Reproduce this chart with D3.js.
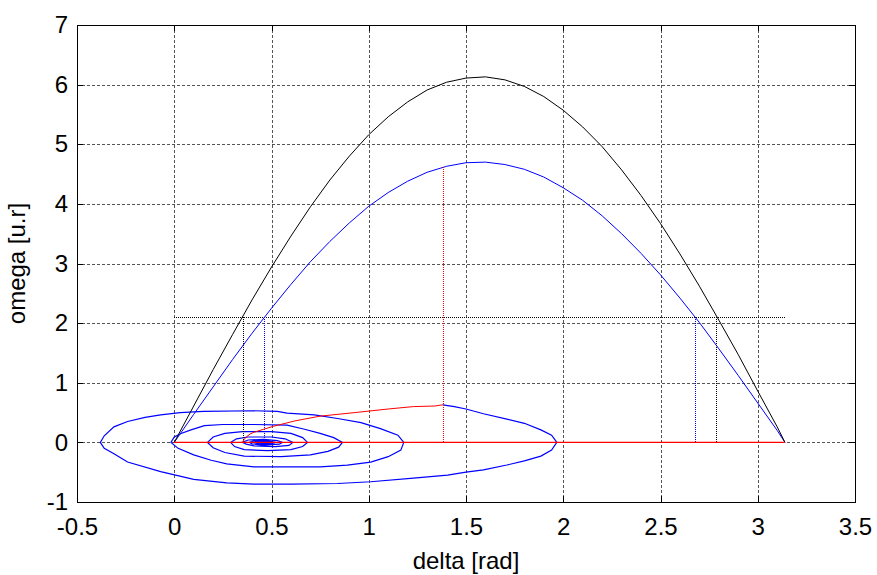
<!DOCTYPE html>
<html><head><meta charset="utf-8">
<script src="https://cdn.jsdelivr.net/npm/d3@7"></script>
<style>body{margin:0;background:#fff}svg{display:block}</style>
</head><body>
<svg id="chart" width="877" height="575"></svg>
<script>
// ---- data ----
const xTicks = [-0.5, 0, 0.5, 1, 1.5, 2, 2.5, 3, 3.5];
const yTicks = [-1, 0, 1, 2, 3, 4, 5, 6, 7];
const xLabel = "delta [rad]";
const yLabel = "omega [u.r]";

// black outer trajectory (delta, omega)
const blackCurve = [[0,0],[0.1,0.61],[0.2,1.22],[0.3,1.81],[0.4,2.39],[0.5,2.94],[0.6,3.46],[0.7,3.95],[0.8,4.40],[0.9,4.80],[1.0,5.16],[1.1,5.46],[1.2,5.71],[1.3,5.91],[1.4,6.04],[1.5,6.11],[1.6,6.13],[1.7,6.08],[1.8,5.97],[1.9,5.80],[2.0,5.57],[2.1,5.29],[2.2,4.96],[2.3,4.57],[2.4,4.14],[2.5,3.67],[2.6,3.16],[2.7,2.62],[2.8,2.05],[2.9,1.47],[3.0,0.86],[3.1,0.26],[3.14,0]];
// blue inner trajectory
const blueCurve = [[0,0],[0.1,0.47],[0.2,0.93],[0.3,1.39],[0.4,1.83],[0.5,2.25],[0.6,2.65],[0.7,3.03],[0.8,3.37],[0.9,3.68],[1.0,3.96],[1.1,4.19],[1.2,4.38],[1.3,4.53],[1.4,4.63],[1.5,4.69],[1.6,4.70],[1.7,4.66],[1.8,4.58],[1.9,4.45],[2.0,4.27],[2.1,4.06],[2.2,3.80],[2.3,3.50],[2.4,3.17],[2.5,2.81],[2.6,2.42],[2.7,2.01],[2.8,1.57],[2.9,1.12],[3.0,0.66],[3.1,0.20],[3.14,0]];
// blue post-fault damped spiral
const spiral = [[1.38,0.63],[1.44,0.60],[1.50,0.56],[1.59,0.48],[1.71,0.39],[1.80,0.32],[1.885,0.21],[1.94,0.12],[1.967,0],
[1.94,-0.13],[1.885,-0.23],[1.80,-0.31],[1.71,-0.38],[1.59,-0.46],[1.50,-0.50],[1.405,-0.55],[1.23,-0.60],[1.01,-0.66],[0.84,-0.69],[0.60,-0.70],[0.41,-0.70],[0.27,-0.68],[0.10,-0.62],[-0.07,-0.49],[-0.24,-0.33],[-0.31,-0.19],[-0.36,-0.10],[-0.38,0],
[-0.36,0.11],[-0.31,0.26],[-0.24,0.35],[-0.15,0.42],[-0.07,0.46],[0.03,0.50],[0.15,0.52],[0.41,0.53],[0.53,0.52],[0.58,0.49],[0.72,0.46],[0.84,0.40],[0.96,0.33],[1.06,0.23],[1.15,0.12],[1.18,0],
[1.165,-0.13],[1.10,-0.24],[1.01,-0.33],[0.89,-0.38],[0.75,-0.41],[0.41,-0.41],[0.27,-0.36],[0.19,-0.30],[0.10,-0.21],[0.02,-0.10],[-0.017,0],
[0.0,0.09],[0.035,0.15],[0.086,0.21],[0.155,0.28],[0.25,0.30],[0.41,0.30],[0.58,0.29],[0.67,0.22],[0.75,0.15],[0.82,0.08],[0.865,0],
[0.845,-0.08],[0.79,-0.15],[0.70,-0.21],[0.55,-0.24],[0.36,-0.23],[0.26,-0.17],[0.20,-0.09],[0.171,0],
[0.20,0.09],[0.26,0.15],[0.35,0.18],[0.50,0.18],[0.60,0.15],[0.66,0.08],[0.685,0],
[0.66,-0.07],[0.60,-0.12],[0.48,-0.14],[0.36,-0.12],[0.31,-0.07],[0.29,0],
[0.32,0.06],[0.38,0.09],[0.50,0.09],[0.57,0.06],[0.61,0],
[0.59,-0.05],[0.52,-0.07],[0.41,-0.06],[0.37,-0.03],[0.35,0],
[0.38,0.04],[0.46,0.05],[0.53,0.03],[0.557,0],
[0.54,-0.03],[0.46,-0.045],[0.40,-0.025],[0.386,0],
[0.41,0.025],[0.48,0.025],[0.52,0],
[0.50,-0.02],[0.44,-0.025],[0.41,0],
[0.43,0.012],[0.49,0.012],[0.50,0],[0.48,-0.012],[0.45,-0.012],[0.44,0],[0.46,0.006],[0.47,0]];
// red fault-on trajectory
const faultCurve = [[0.351,0],[0.36,0.05],[0.37,0.09],[0.39,0.14],[0.41,0.17],[0.46,0.22],[0.51,0.27],[0.62,0.36],[0.75,0.44],[0.93,0.50],[1.10,0.56],[1.23,0.60],[1.34,0.61],[1.38,0.63]];
const zeroLine = [[0,0],[3.14,0]];
const levelLine = [[0,2.1],[3.14,2.1]];
const blackDrops = [[0.351,2.1],[2.785,2.1]];
const blueDrops = [[0.464,2.1],[2.677,2.1]];
const redDrops = [[1.38,4.62]];

// ---- layout ----
const L = 77, R = 855, T = 25, B = 502;
const FONT = "'Liberation Sans', Arial, Helvetica, sans-serif";
const svg = d3.select("#chart");
const x = d3.scaleLinear().domain([-0.5, 3.5]).range([L, R]);
const y = d3.scaleLinear().domain([-1, 7]).range([B, T]);
const line = d3.line().x(d => x(d[0])).y(d => y(d[1]));
const snap = v => Math.round(v) + 0.5;

// grid
const grid = svg.append("g").attr("stroke", "#555").attr("stroke-width", 1)
  .attr("stroke-dasharray", "3,2").attr("shape-rendering", "crispEdges");
grid.selectAll(".gx").data(xTicks.slice(1, -1)).join("line")
  .attr("x1", d => snap(x(d))).attr("x2", d => snap(x(d)))
  .attr("y1", T).attr("y2", B);
grid.selectAll(".gy").data(yTicks.slice(1, -1)).join("line")
  .attr("y1", d => snap(y(d))).attr("y2", d => snap(y(d)))
  .attr("x1", L).attr("x2", R);

const plot = svg.append("g").attr("fill", "none").attr("stroke-width", 1);

// spiral and arcs
plot.append("path").datum(spiral).attr("d", line).attr("stroke", "#0000ff").attr("stroke-width", 1.2);
plot.append("path").datum(blueCurve).attr("d", line).attr("stroke", "#0000ff");
plot.append("path").datum(blackCurve).attr("d", line).attr("stroke", "#000000");

// dotted construction lines
const dotted = plot.append("g").attr("stroke-dasharray", "1,1").attr("shape-rendering", "crispEdges");
dotted.append("line").attr("x1", x(levelLine[0][0])).attr("x2", x(levelLine[1][0]))
  .attr("y1", snap(y(levelLine[0][1]))).attr("y2", snap(y(levelLine[1][1]))).attr("stroke", "#000");
dotted.selectAll(".bd").data(blackDrops).join("line")
  .attr("x1", d => snap(x(d[0]))).attr("x2", d => snap(x(d[0])))
  .attr("y1", y(0)).attr("y2", d => y(d[1]))
  .attr("stroke", "#000");
dotted.selectAll(".ud").data(blueDrops).join("line")
  .attr("x1", d => snap(x(d[0]))).attr("x2", d => snap(x(d[0])))
  .attr("y1", y(0)).attr("y2", d => y(d[1]))
  .attr("stroke", "#0000ff");
dotted.selectAll(".rd").data(redDrops).join("line")
  .attr("x1", d => snap(x(d[0]))).attr("x2", d => snap(x(d[0])))
  .attr("y1", y(0)).attr("y2", d => y(d[1]))
  .attr("stroke", "#ff0000");

// red fault trajectory
plot.append("path").datum(zeroLine).attr("d", line).attr("stroke", "#ff0000").attr("stroke-width", 1.3);
plot.append("path").datum(faultCurve).attr("d", line).attr("stroke", "#ff0000");

// axes (inward ticks, box)
const fmt = d => String(d);
function styleAxis(g) {
  g.attr("font-family", FONT).attr("font-size", 24);
  g.selectAll("path, line").attr("stroke", "#000").attr("shape-rendering", "crispEdges");
  g.selectAll("text").attr("fill", "#000");
}
svg.append("g").attr("transform", `translate(0,${B})`)
  .call(d3.axisBottom(x).tickValues(xTicks).tickFormat(fmt).tickSizeInner(-6).tickSizeOuter(0).tickPadding(16))
  .call(styleAxis);
svg.append("g").attr("transform", `translate(0,${T})`)
  .call(d3.axisTop(x).tickValues(xTicks).tickFormat("").tickSizeInner(-6).tickSizeOuter(0))
  .call(styleAxis);
svg.append("g").attr("transform", `translate(${L},0)`)
  .call(d3.axisLeft(y).tickValues(yTicks).tickFormat(fmt).tickSizeInner(-6).tickSizeOuter(0).tickPadding(9))
  .call(styleAxis);
svg.append("g").attr("transform", `translate(${R},0)`)
  .call(d3.axisRight(y).tickValues(yTicks).tickFormat("").tickSizeInner(-6).tickSizeOuter(0))
  .call(styleAxis);

// axis titles
svg.append("text").attr("x", (L + R) / 2).attr("y", 569)
  .attr("text-anchor", "middle").attr("font-family", FONT).attr("font-size", 24)
  .text(xLabel);
svg.append("text").attr("transform", `translate(25,${(T + B) / 2}) rotate(-90)`)
  .attr("text-anchor", "middle").attr("font-family", FONT).attr("font-size", 24)
  .text(yLabel);
</script>
</body></html>
